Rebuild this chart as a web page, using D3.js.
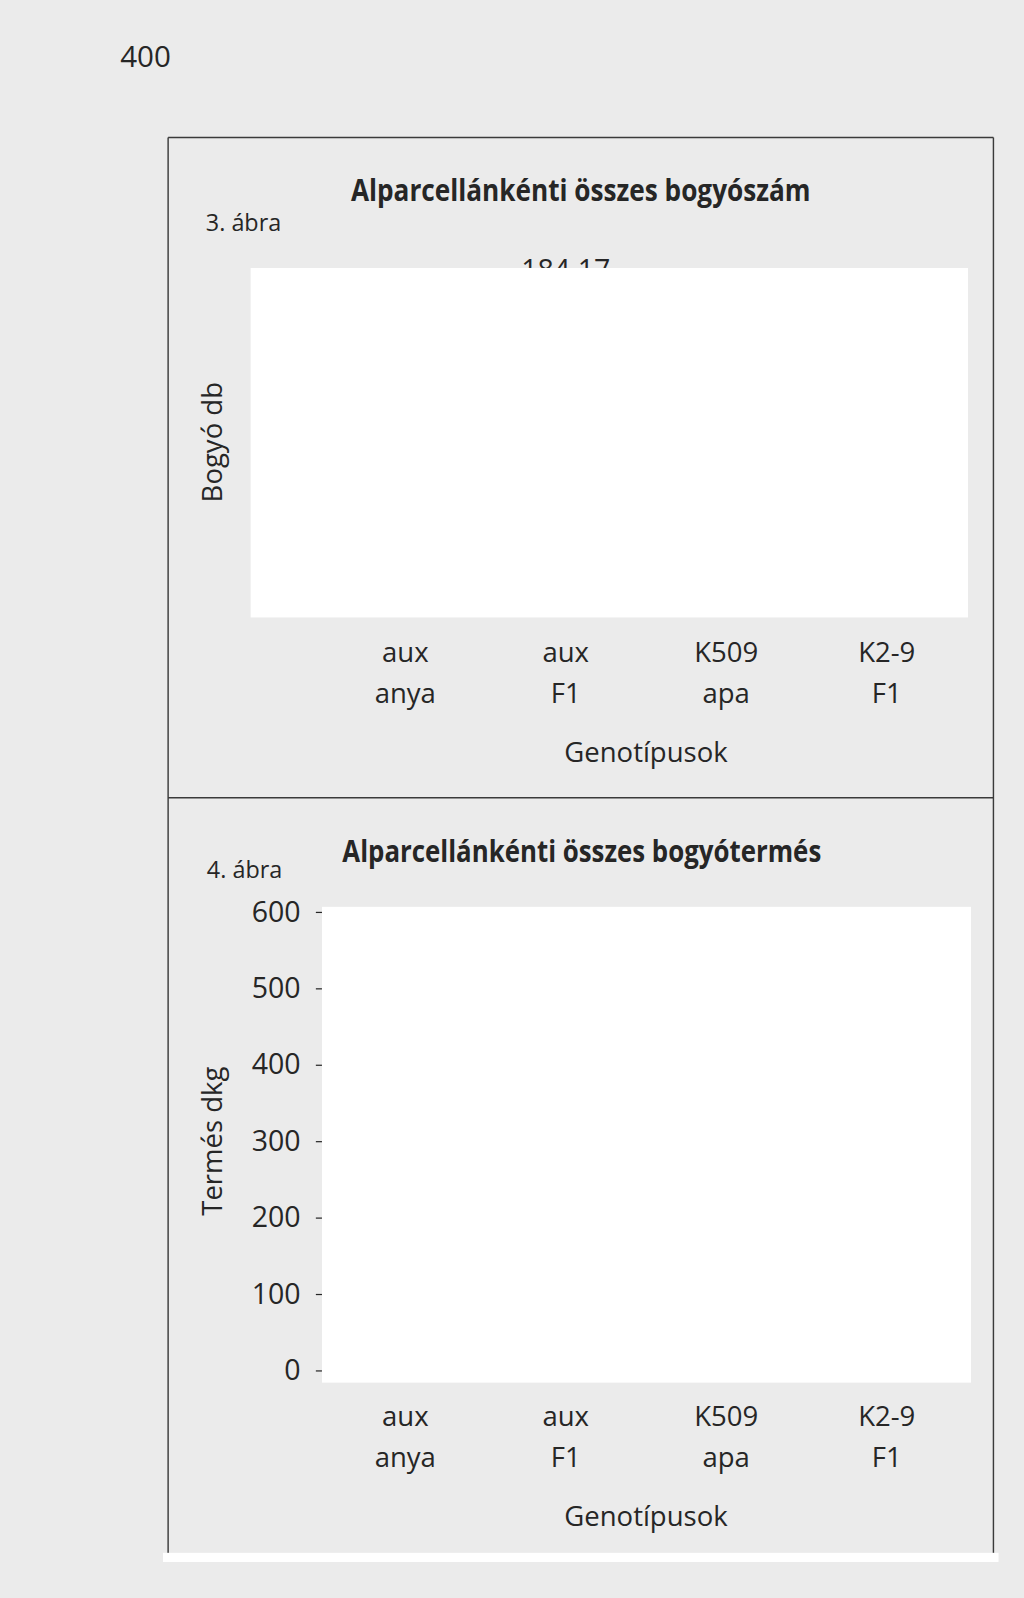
<!DOCTYPE html>
<html>
<head>
<meta charset="utf-8">
<script src="https://cdn.jsdelivr.net/npm/d3@7"></script>
<style>
  html, body { margin: 0; padding: 0; background: #ebebeb; }
  svg { display: block; }
  text { font-family: "Open Sans", "DejaVu Sans", sans-serif; fill: #262626; }
</style>
</head>
<body>
<div id="page"></div>
<script>
// data (the plot areas are blanked out, only one value label is visible)
const genotypes = ["aux anya", "aux F1", "K509 apa", "K2-9 F1"];
const genotypeLines = [["aux", "anya"], ["aux", "F1"], ["K509", "apa"], ["K2-9", "F1"]];
const berryCount = [null, 184.17, null, null];   // Bogyó db
const yieldTicks = [0, 100, 200, 300, 400, 500, 600]; // Termés dkg

const width = 1024, height = 1598;
const ink = "#262626";

const root = d3.select("#page").append("svg")
    .attr("width", width)
    .attr("height", height);

root.append("rect")
    .attr("width", width).attr("height", height)
    .attr("fill", "#ebebeb");

// layout was measured on a 1005px wide copy of the scan
const svg = root.append("g")
    .attr("transform", `scale(${width / 1005})`);

// page number
svg.append("text")
    .attr("x", 118).attr("y", 66)
    .style("font-size", "29px")
    .text("400");

// frame of both figures
const frame = svg.append("g")
    .attr("stroke", "#3a3a3a")
    .attr("stroke-width", 1.4)
    .attr("fill", "none");
frame.append("line").attr("x1", 165).attr("x2", 975).attr("y1", 135).attr("y2", 135);
frame.append("line").attr("x1", 165).attr("x2", 975).attr("y1", 783).attr("y2", 783);
frame.append("line").attr("x1", 165).attr("x2", 165).attr("y1", 135).attr("y2", 1526);
frame.append("line").attr("x1", 975).attr("x2", 975).attr("y1", 135).attr("y2", 1526);

// shared x scale
const x = d3.scaleBand()
    .domain(genotypes)
    .range([319, 949]);

function categoryLabels(baseline) {
    const g = svg.append("g");
    genotypes.forEach((d, i) => {
        const t = g.append("text")
            .attr("text-anchor", "middle")
            .style("font-size", "27px");
        genotypeLines[i].forEach((line, j) => {
            t.append("tspan")
                .attr("x", x(d) + x.bandwidth() / 2)
                .attr("y", baseline + j * 40)
                .text(line);
        });
    });
    svg.append("text")
        .attr("x", (x.range()[0] + x.range()[1]) / 2)
        .attr("y", baseline + 98)
        .attr("text-anchor", "middle")
        .style("font-size", "27px")
        .text("Genotípusok");
}

function title(txt, cx, y, len) {
    svg.append("text")
        .attr("x", cx).attr("y", y)
        .attr("text-anchor", "middle")
        .attr("textLength", len)
        .attr("lengthAdjust", "spacingAndGlyphs")
        .style("font-size", "30px")
        .style("font-weight", "bold")
        .text(txt);
}

function figLabel(txt, xPos, y) {
    svg.append("text")
        .attr("x", xPos).attr("y", y)
        .attr("textLength", 74)
        .attr("lengthAdjust", "spacingAndGlyphs")
        .style("font-size", "24px")
        .text(txt);
}

function yTitle(txt, cx, cy) {
    svg.append("text")
        .attr("transform", `translate(${cx},${cy}) rotate(-90)`)
        .attr("text-anchor", "middle")
        .style("font-size", "27px")
        .text(txt);
}

// ---------- 3. ábra ----------
title("Alparcellánkénti összes bogyószám", 570, 197, 451);
figLabel("3. ábra", 202, 227);
yTitle("Bogyó db", 218, 434);

const y1 = d3.scaleLinear().domain([0, 190]).range([600, 265]);

svg.append("g")
    .selectAll("text")
    .data(genotypes.map((d, i) => ({ g: d, v: berryCount[i] })).filter(d => d.v != null))
    .join("text")
    .attr("x", d => x(d.g) + x.bandwidth() / 2)
    .attr("y", d => y1(d.v))
    .attr("text-anchor", "middle")
    .style("font-size", "28px")
    .text(d => d3.format(".2f")(d.v));

// blanked plot area
svg.append("rect")
    .attr("x", 246).attr("y", 263)
    .attr("width", 704).attr("height", 343)
    .attr("fill", "#ffffff");

categoryLabels(650);

// ---------- 4. ábra ----------
title("Alparcellánkénti összes bogyótermés", 571, 846, 470);
figLabel("4. ábra", 203, 862);
yTitle("Termés dkg", 218, 1120);

const y2 = d3.scaleLinear().domain([0, 600]).range([1345, 895]);

const yAxis = svg.append("g")
    .attr("transform", "translate(316,0)")
    .call(d3.axisLeft(y2).tickValues(yieldTicks).tickSize(6).tickPadding(15));
yAxis.select(".domain").remove();
yAxis.selectAll(".tick line").attr("stroke", ink).attr("stroke-width", 1.2);
yAxis.selectAll(".tick text")
    .attr("fill", ink)
    .style("font-family", "'Open Sans', sans-serif")
    .style("font-size", "28px");

svg.append("rect")
    .attr("x", 316).attr("y", 890)
    .attr("width", 637).attr("height", 467)
    .attr("fill", "#ffffff");

categoryLabels(1400);

// white strip at the bottom of the scan
svg.append("rect")
    .attr("x", 160).attr("y", 1524)
    .attr("width", 820).attr("height", 9)
    .attr("fill", "#ffffff");
</script>
</body>
</html>
